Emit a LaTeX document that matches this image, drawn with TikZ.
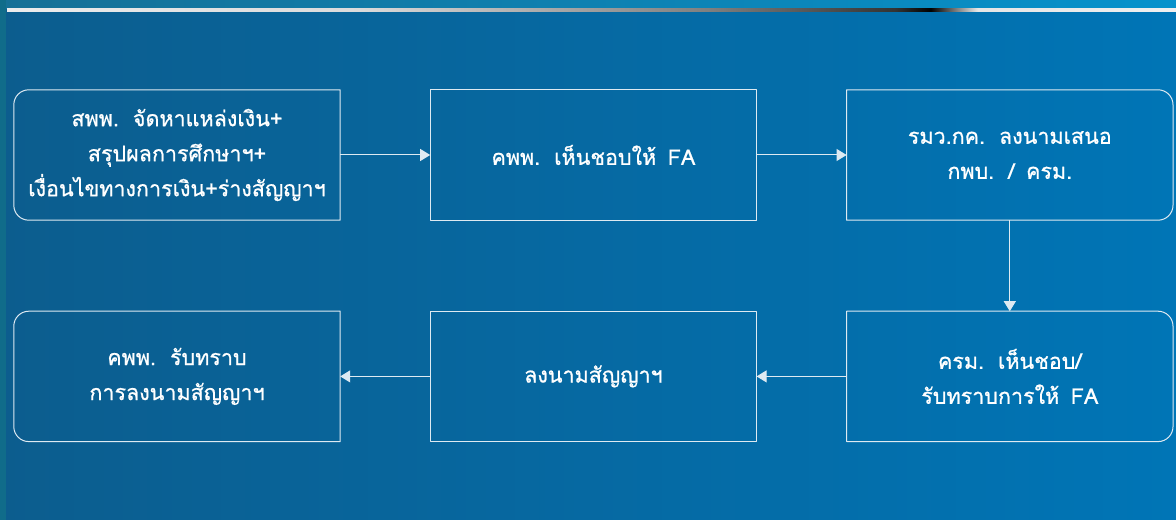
\documentclass[tikz,border=0pt]{standalone}
\usepackage{fontspec}
\newfontfamily\thaifont[Script=Thai,WordSpace=1.6,FakeBold=0.8]{Loma}
\usetikzlibrary{positioning,arrows.meta}
\definecolor{bgleft}{RGB}{12,93,142}
\definecolor{bgright}{RGB}{0,117,182}
\definecolor{topleft}{RGB}{22,112,150}
\definecolor{topright}{RGB}{6,146,204}
\definecolor{edge}{RGB}{16,108,138}
\definecolor{rimcol}{RGB}{222,234,242}
\pgfdeclarehorizontalshading{topline}{100bp}{color(0bp)=(white!85!gray); color(25bp)=(white!85!gray); color(40bp)=(white!72!gray); color(55bp)=(gray); color(63bp)=(black!80); color(64.5bp)=(black); color(66.5bp)=(white!80!gray); color(75bp)=(white!88!gray); color(100bp)=(white!88!gray)}
\begin{document}
\begin{tikzpicture}[x=1bp,y=-1bp,>={Triangle[length=10bp,width=12bp]},line join=round,
	box/.style={minimum width=326bp,minimum height=130bp,inner sep=0pt,align=center,text=white,font=\thaifont\fontsize{21.5bp}{35bp}\selectfont},
	rim/.style={draw=rimcol,line width=1bp},
	link/.style={->,draw=rimcol,fill=white,line width=1bp}]
	\useasboundingbox (0,0) rectangle (1176,520);
	% background
	\shade[left color=bgleft,right color=bgright] (0,0) rectangle (1176,520);
	\shade[left color=topleft,right color=topright] (0,0) rectangle (1176,9);
	\fill[edge] (0,0) rectangle (6,520);
	\shade[shading=topline] (7,9) rectangle (1176,11.5);
	% steps
	\node[box] (sp) at (177,155) {สพพ. จัดหาแหล่งเงิน+\\สรุปผลการศึกษาฯ+\\เงื่อนไขทางการเงิน+ร่างสัญญาฯ};
	\node[box,right=90bp of sp] (kp) {คพพ. เห็นชอบให้ FA};
	\node[box,right=90bp of kp] (rm) {รมว.กค. ลงนามเสนอ\\กพบ. / ครม.};
	\node[box,below=91bp of rm] (cr) {ครม. เห็นชอบ/\\รับทราบการให้ FA};
	\node[box,left=90bp of cr] (ln) {ลงนามสัญญาฯ};
	\node[box,left=90bp of ln] (rt) {คพพ. รับทราบ\\การลงนามสัญญาฯ};
	% frames
	\foreach \n/\s/\o in {sp/west/east,rt/west/east,rm/east/west,cr/east/west}
		\draw[rim] (\n.north) [rounded corners=15bp] -- (\n.north \s) -- (\n.south \s) -- (\n.south) [sharp corners] -- (\n.south \o) -- (\n.north \o) -- cycle;
	\foreach \n in {kp,ln}
		\draw[rim] (\n.north west) rectangle (\n.south east);
	% flow
	\draw[link] (sp) -- (kp);
	\draw[link] (kp) -- (rm);
	\draw[link] (rm) -- (cr);
	\draw[link] (cr) -- (ln);
	\draw[link] (ln) -- (rt);
\end{tikzpicture}
\end{document}
